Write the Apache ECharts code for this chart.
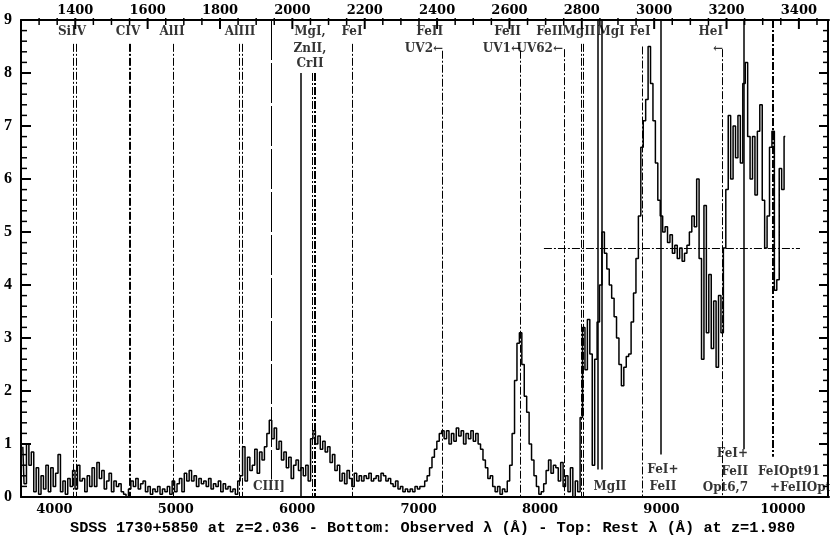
<!DOCTYPE html>
<html><head><meta charset="utf-8">
<script src="https://cdn.jsdelivr.net/npm/echarts@6/dist/echarts.min.js"></script>
<style>html,body{margin:0;padding:0;background:#fff}#c{width:830px;height:544px}</style>
</head><body><div id="c"></div>
<script>
// ---- data ----
const obsStart = 3740, obsStep = 20;   // observed wavelength grid (Å)
const flux = [
 0.95,0.25,1.0,0.6,0.85, 0.1,0.55,0.05,0.4,0.15, 0.6,0.1,0.55,0.2,0.45, 0.8,0.1,0.3,0.05,0.35,
 0.2,0.5,0.15,0.6,0.3, 0.35,0.1,0.4,0.2,0.55, 0.2,0.65,0.35,0.5,0.15, 0.3,0.45,0.1,0.3,0.2,
 0.25,0.1,0.05,0.0,0.15, 0.3,0.2,0.35,0.15,0.25, 0.3,0.1,0.2,0.05,0.15, 0.1,0.2,0.05,0.15,0.1,
 0.2,0.05,0.3,0.1,0.25, 0.35,0.1,0.45,0.3,0.5, 0.3,0.4,0.2,0.35,0.25, 0.3,0.2,0.35,0.15,0.25,
 0.2,0.3,0.1,0.25,0.15, 0.2,0.1,0.15,0.05,0.3, 0.4,0.95,0.3,0.75,0.5, 0.6,0.9,0.45,0.85,0.7,
 0.95,1.2,1.45,1.1,1.3, 0.9,1.05,0.7,0.85,0.55, 0.75,0.35,0.6,0.7,0.5, 0.55,0.4,0.6,0.3,1.1,
 1.25,1.0,1.15,0.9,1.05, 0.85,0.95,0.65,0.8,0.5, 0.6,0.3,0.45,0.25,0.5, 0.35,0.2,0.45,0.3,0.4,
 0.3,0.4,0.35,0.45,0.3, 0.35,0.4,0.3,0.45,0.4, 0.3,0.35,0.25,0.2,0.3, 0.15,0.2,0.1,0.15,0.1,
 0.15,0.1,0.2,0.15,0.2, 0.2,0.3,0.4,0.55,0.75, 0.9,1.05,1.2,1.25,1.1, 1.25,1.0,1.2,1.05,1.3,
 1.15,1.25,1.0,1.2,1.1, 1.25,1.05,1.2,1.0,0.9, 0.7,0.55,0.35,0.4,0.2, 0.1,0.2,0.05,0.15,0.1,
 0.3,0.6,1.2,2.2,2.9, 3.1,2.5,1.9,1.6,1.0, 0.7,0.4,0.2,0.05,0.1, 0.25,0.5,0.7,0.45,0.6,
 0.55,0.3,0.65,0.2,0.4, 0.1,0.55,0.0,0.3,0.1, 1.5,3.2,2.4,3.35,2.7, 0.6,2.6,3.3,4.0,5.0,
 4.6,4.3,4.0,3.75,3.4, 3.0,2.5,2.1,2.45,2.65, 2.7,3.3,3.85,4.5,5.3, 6.6,7.1,7.5,8.5,7.8,
 7.1,6.3,5.6,5.3,5.0, 5.1,4.8,4.95,4.6,4.75, 4.5,4.7,4.45,4.6,4.75, 5.0,5.3,5.1,6.0,4.5,
 2.6,5.5,3.1,4.2,2.8, 3.7,2.45,3.8,3.1,4.7, 5.8,7.2,6.0,7.0,6.4, 7.2,6.3,7.8,8.2,6.8,
 6.0,6.8,5.7,6.9,7.4, 5.6,4.7,5.3,6.6,6.9, 3.9,4.1,6.2,5.8,6.8
];
const zRest = 1.98;
const bottomTicks = [4000,5000,6000,7000,8000,9000,10000];
const topTicks = [1400,1600,1800,2000,2200,2400,2600,2800,3000,3200,3400];

// vertical line markers (observed Å), their extent in flux units and kind
const lineObs    = [4153,4180,4614,4621,4975,5519,5545,5790,6031,6125,6141,6152,6457,7198,7835,8197,8337,8356,8479,8507,8845,8993,9504,9674,9916];
const lineTop    = [8.55,8.55,8.55,8.55,8.55,8.55,8.55,9,8.0,8.0,8.0,8.0,8.55,8.42,8.42,8.45,8.55,8.55,9,9,8.5,9,8.45,9,9];
const lineBottom = [0,0,0,0,0,0,0,0.33,0,0,0,0,0,0,0,0,0,0,0.52,0.52,0,0.8,0,0.9,0.76];
const lineKind   = ['dd','dd','dd','dd','dd','dd','dd','long','solid','dd','dd','dd','dd','dd','dd','dd','dd','dd','solid','solid','dd','solid','dd','solid','ddThick'];

// horizontal reference level
const refLevel = 4.69, refFrom = 8032, refTo = 10141;

// annotation labels
const labelText  = ['SiIV','CIV','AlII','AlIII','MgI,','ZnII,','CrII','FeI','FeII','UV2←','FeII','UV1←','FeII','UV62←','MgII','MgI','FeI','HeI','←',
                    'CIII]','MgII','FeI+','FeII','FeI+','FeII','Opt6,7','FeIOpt91','+FeIIOpt1'];
const labelObs   = [4145,4606,4969,5529,6105,6105,6105,6451,7201,7201,7843,7843,8189,8189,8321,8585,8823,9507,9507,
                    5767,8576,9012,9012,9713,9713,9713,9795,9894];
const labelFlux  = [8.78,8.78,8.78,8.78,8.78,8.46,8.17,8.78,8.78,8.46,8.78,8.46,8.78,8.46,8.78,8.78,8.78,8.78,8.46,
                    0.2,0.2,0.52,0.19,0.82,0.48,0.18,0.48,0.18];
const labelAlign = ['center','center','center','center','center','center','center','center','right','right','right','right','right','right','center','center','center','right','right',
                    'center','center','center','center','right','right','right','left','left'];

const titleText = 'SDSS 1730+5850 at z=2.036 - Bottom: Observed λ (Å) - Top: Rest λ (Å) at z=1.980';

// ---- styles / scales ----
const obsMin = 3725, obsMax = 10380;
const restMin = obsMin / (1 + zRest), restMax = obsMax / (1 + zRest);
const serif = 'DejaVu Serif';
const kindStyle = {
  dd:      {color:'#000', width:1, type:[8,2,2,2]},
  ddThick: {color:'#000', width:2, type:[8,2,2,2]},
  solid:   {color:'#000', width:1.5, type:'solid'},
  long:    {color:'#000', width:1, type:[40,3]}
};

// frame tick values: rest-frame every 50 Å on top, flux every 0.2 on the sides
const topTickMarks = [];
for (let v = 1300; v <= restMax; v += 50) topTickMarks.push(v);
const sideTickMarks = [];
for (let k = 0; k <= 45; k++) sideTickMarks.push(k / 5);

const markData = lineObs.map((x, i) => [
  {coord:[x, lineTop[i]], lineStyle: Object.assign({}, kindStyle[lineKind[i]])},
  {coord:[x, lineBottom[i]]}
]);
markData.push([{coord:[refFrom, refLevel], lineStyle: Object.assign({}, kindStyle.dd)}, {coord:[refTo, refLevel]}]);

const fmt = v => String(Math.round(v));

// frame (right border + inward ticks) drawn through the axes' own scales
function renderFrame(params, api) {
  const cs = params.coordSys;
  const L = cs.x, R = cs.x + cs.width, T = cs.y, B = cs.y + cs.height;
  const children = [];
  const seg = (x1, y1, x2, y2, w) => children.push({
    type:'line', shape:{x1, y1, x2, y2}, style:{stroke:'#000', lineWidth:w}
  });
  seg(R - 1, T, R - 1, B, 2);
  seg(L, T, L, B, 2);
  sideTickMarks.forEach(v => {
    const py = api.coord([obsMin, v])[1];
    const major = Math.abs(v - Math.round(v)) < 1e-6;
    const len = major ? 10 : 6;
    seg(L, py, L + len, py, major ? 2 : 1.5);
    seg(R - len, py, R, py, major ? 2 : 1.5);
  });
  topTickMarks.forEach(r => {
    const px = api.coord([r * (1 + zRest), 9])[0];
    const major = r % 200 === 0;
    seg(px, T - 2, px, T + (major ? 9 : 5), major ? 2 : 1.5);
  });
  return {type:'group', children};
}

const chart = echarts.init(document.getElementById('c'), null, {renderer:'canvas'});
chart.setOption({
  animation: false,
  title: {
    text: titleText, left: 70, top: 521, padding: 0,
    textStyle: {fontFamily:'Liberation Mono', fontSize:15.3, fontWeight:'bold', color:'#000'}
  },
  grid: {left: 21, right: 1, top: 20, bottom: 47, containLabel: false, outerBoundsMode: 'none'},
  xAxis: [
    {type:'value', position:'bottom', min:obsMin, max:obsMax,
     axisLine:{show:true, onZero:false, lineStyle:{color:'#000', width:2}},
     axisTick:{show:false}, splitLine:{show:false},
     axisLabel:{customValues: bottomTicks, formatter: fmt, color:'#000', fontFamily:serif, fontWeight:'bold', fontSize:13, margin:6}},
    {type:'value', position:'top', min:restMin, max:restMax,
     axisLine:{show:true, onZero:false, lineStyle:{color:'#000', width:2}},
     axisTick:{show:false}, splitLine:{show:false},
     axisLabel:{customValues: topTicks, formatter: fmt, color:'#000', fontFamily:serif, fontWeight:'bold', fontSize:13, margin:3}}
  ],
  yAxis: [
    {type:'value', position:'left', min:0, max:9, interval:1,
     axisLine:{show:true, onZero:false, lineStyle:{color:'#000', width:2}},
     axisTick:{show:false}, splitLine:{show:false},
     axisLabel:{formatter: fmt, color:'#000', fontFamily:'Liberation Serif', fontWeight:'bold', fontSize:16, margin:9}}
  ],
  series: [
    {type:'line', xAxisIndex:0, yAxisIndex:0, step:'middle', symbol:'none',
     data: flux.map((v, i) => [obsStart + i * obsStep, v]),
     lineStyle:{color:'#000', width:1.5},
     markLine:{silent:true, symbol:['none','none'], label:{show:false}, animation:false, data: markData}},
    {type:'custom', xAxisIndex:0, yAxisIndex:0, silent:true, clip:false, z:4,
     data:[[obsMin, 0]], renderItem: renderFrame},
    {type:'scatter', xAxisIndex:0, yAxisIndex:0, symbol:'circle', symbolSize:1,
     itemStyle:{color:'rgba(0,0,0,0)'}, silent:true, z:5,
     label:{show:true, position:'inside', color:'#000', fontFamily:serif, fontWeight:'bold', fontSize:12, verticalAlign:'middle'},
     data: labelObs.map((x, i) => ({value:[x, labelFlux[i]], label:{formatter: labelText[i], align: labelAlign[i]}}))}
  ]
});
</script></body></html>
